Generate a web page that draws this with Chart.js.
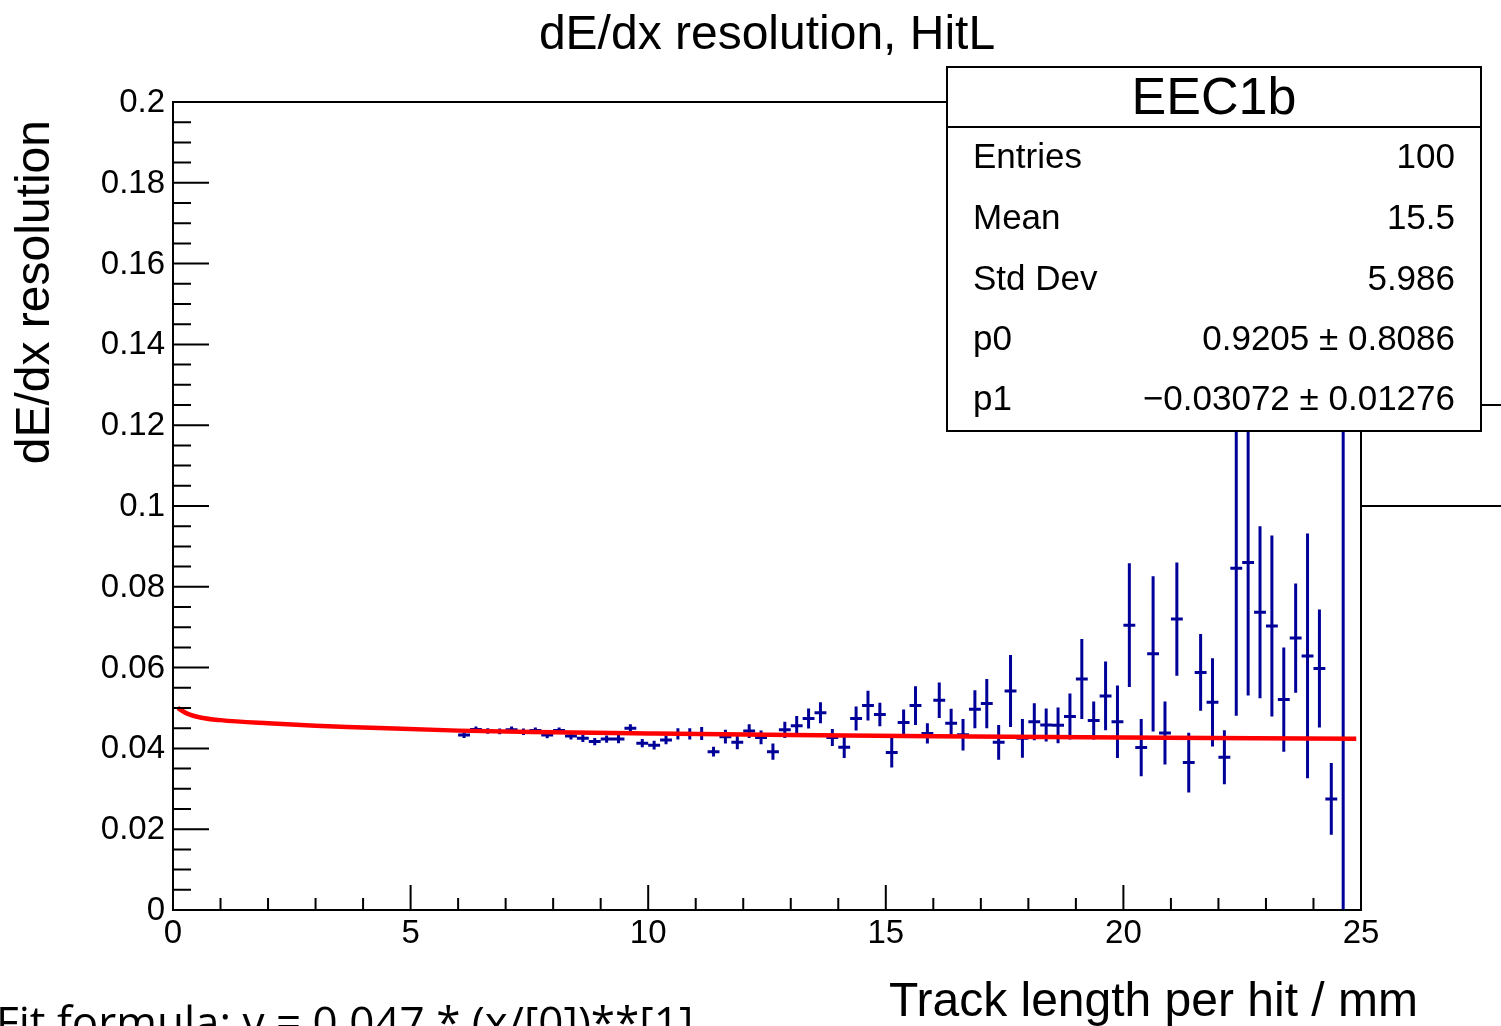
<!DOCTYPE html>
<html>
<head>
<meta charset="utf-8">
<title>dE/dx resolution, HitL</title>
<script src="https://cdn.jsdelivr.net/npm/chart.js@4.4.1/dist/chart.umd.min.js"></script>
<style>
  html, body { margin: 0; padding: 0; background: #fff; overflow: hidden; }
  canvas { display: block; }
</style>
</head>
<body>
<canvas id="grafica" width="1501" height="1026"></canvas>
<script>
// --- data ---------------------------------------------------------------
// bin centres (bin width 0.25 mm), only the filled bins
const binX = [
  6.125, 6.375, 6.625, 6.875, 7.125, 7.375, 7.625, 7.875, 8.125, 8.375,
  8.625, 8.875, 9.125, 9.375, 9.625, 9.875, 10.125, 10.375, 10.625, 10.875,
  11.125, 11.375, 11.625, 11.875, 12.125, 12.375, 12.625, 12.875, 13.125, 13.375,
  13.625, 13.875, 14.125, 14.375, 14.625, 14.875, 15.125, 15.375, 15.625, 15.875,
  16.125, 16.375, 16.625, 16.875, 17.125, 17.375, 17.625, 17.875, 18.125, 18.375,
  18.625, 18.875, 19.125, 19.375, 19.625, 19.875, 20.125, 20.375, 20.625, 20.875,
  21.125, 21.375, 21.625, 21.875, 22.125, 22.375, 22.625, 22.875, 23.125, 23.375,
  23.625, 23.875, 24.125, 24.375, 24.625
];
const binY = [
  0.0433, 0.0447, 0.0443, 0.0442, 0.0446, 0.0441, 0.0444, 0.0433, 0.0444, 0.0431,
  0.0425, 0.0417, 0.0423, 0.0423, 0.0450, 0.0413, 0.0408, 0.0421, 0.0436, 0.0436,
  0.0437, 0.0392, 0.0429, 0.0415, 0.0443, 0.0427, 0.0392, 0.0446, 0.0456, 0.0474,
  0.0488, 0.0427, 0.0403, 0.0474, 0.0506, 0.0484, 0.0390, 0.0464, 0.0506, 0.0437,
  0.0519, 0.0462, 0.0434, 0.0497, 0.0511, 0.0415, 0.0542, 0.0425, 0.0466, 0.0458,
  0.0457, 0.0479, 0.0572, 0.0469, 0.0530, 0.0466, 0.0705, 0.0402, 0.0634, 0.0438,
  0.0720, 0.0365, 0.0588, 0.0514, 0.0378, 0.0846, 0.0860, 0.0737, 0.0703, 0.0521,
  0.0673, 0.0629, 0.0598, 0.0275, 0.1400
];
const binErr = [
  0.0007, 0.0007, 0.0007, 0.0007, 0.0008, 0.0008, 0.0008, 0.0008, 0.0008, 0.0009,
  0.0009, 0.0009, 0.0009, 0.0010, 0.0010, 0.0010, 0.0011, 0.0011, 0.0014, 0.0014,
  0.0016, 0.0012, 0.0017, 0.0017, 0.0017, 0.0017, 0.0020, 0.0020, 0.0024, 0.0025,
  0.0026, 0.0021, 0.0027, 0.0030, 0.0037, 0.0029, 0.0037, 0.0032, 0.0048, 0.0025,
  0.0044, 0.0036, 0.0039, 0.0047, 0.0061, 0.0043, 0.0089, 0.0048, 0.0046, 0.0041,
  0.0044, 0.0057, 0.0099, 0.0047, 0.0085, 0.0090, 0.0153, 0.0071, 0.0192, 0.0078,
  0.0140, 0.0074, 0.0095, 0.0109, 0.0067, 0.0365, 0.0329, 0.0213, 0.0224, 0.0129,
  0.0135, 0.0303, 0.0146, 0.0089, 0.1600
];
const binHalf = 0.125;

// fit curve, read at a few points along the red line
const fitX = [0.1, 0.3, 0.6, 1.0, 2.0, 3.0, 4.0, 6.0, 8.0, 10.0, 13.0, 16.0, 20.0, 24.9];
const fitY = [0.0500, 0.0486, 0.0476, 0.0470, 0.0462, 0.0456, 0.0452, 0.0444, 0.0440, 0.0437, 0.0433, 0.0430, 0.0427, 0.0424];

// axes
const xTicks = [0, 5, 10, 15, 20, 25];
const xTickLabels = ["0", "5", "10", "15", "20", "25"];
const yTicks = [0, 0.02, 0.04, 0.06, 0.08, 0.1, 0.12, 0.14, 0.16, 0.18, 0.2];
const yTickLabels = ["0", "0.02", "0.04", "0.06", "0.08", "0.1", "0.12", "0.14", "0.16", "0.18", "0.2"];

// stats box
const statTitle = "EEC1b";
const statNames = ["Entries", "Mean", "Std Dev", "p0", "p1"];
const statValues = ["100", "15.5", "5.986", "0.9205 \u00b1 0.8086", "\u22120.03072 \u00b1 0.01276"];

const FONT = "'Liberation Sans', Arial, Helvetica, sans-serif";

// --- ROOT look: inner ticks, frame, texts, stats box --------------------
const rootStyle = {
  id: "rootStyle",
  beforeDatasetsDraw(chart) {
    const { ctx, chartArea: a, scales: { x, y } } = chart;
    ctx.save();
    ctx.beginPath();
    ctx.rect(a.left, a.top, a.right - a.left, a.bottom - a.top);
    ctx.clip();
    ctx.strokeStyle = "#000099";
    ctx.lineWidth = 3;
    ctx.beginPath();
    binX.forEach((xv, i) => {
      const px = x.getPixelForValue(xv);
      const py = y.getPixelForValue(binY[i]);
      ctx.moveTo(x.getPixelForValue(xv - binHalf), py);
      ctx.lineTo(x.getPixelForValue(xv + binHalf), py);
      ctx.moveTo(px, y.getPixelForValue(binY[i] + binErr[i]));
      ctx.lineTo(px, y.getPixelForValue(binY[i] - binErr[i]));
    });
    ctx.stroke();
    ctx.restore();
  },
  afterDraw(chart) {
    const { ctx, chartArea: a, scales: { x, y } } = chart;
    ctx.save();
    ctx.strokeStyle = "#000";
    ctx.fillStyle = "#000";
    ctx.lineWidth = 2;

    // frame
    ctx.strokeRect(a.left, a.top, a.right - a.left, a.bottom - a.top);

    // ticks
    ctx.beginPath();
    for (let v = 0; v <= 25; v += 1) {
      const px = x.getPixelForValue(v);
      const len = v % 5 === 0 ? 25 : 12;
      ctx.moveTo(px, a.bottom);
      ctx.lineTo(px, a.bottom - len);
    }
    for (let i = 0; i <= 40; i++) {
      const py = y.getPixelForValue(i * 0.005);
      const len = i % 4 === 0 ? 36 : 18;
      ctx.moveTo(a.left, py);
      ctx.lineTo(a.left + len, py);
    }
    ctx.stroke();

    // tick labels
    ctx.font = "33px " + FONT;
    ctx.textAlign = "center";
    ctx.textBaseline = "middle";
    xTicks.forEach((v, i) => ctx.fillText(xTickLabels[i], x.getPixelForValue(v), a.bottom + 24));
    ctx.textAlign = "right";
    yTicks.forEach((v, i) => ctx.fillText(yTickLabels[i], a.left - 8, y.getPixelForValue(v) + 1));

    // title and axis titles
    ctx.font = "48px " + FONT;
    ctx.textAlign = "center";
    ctx.textBaseline = "alphabetic";
    ctx.fillText("dE/dx resolution, HitL", 767, 49);
    ctx.textAlign = "right";
    ctx.fillText("Track length per hit / mm", 1418, 1016);
    ctx.save();
    ctx.translate(49, 120);
    ctx.rotate(-Math.PI / 2);
    ctx.textAlign = "right";
    ctx.fillText("dE/dx resolution", 0, 0);
    ctx.restore();

    // leftover edges of other pads
    ctx.beginPath();
    ctx.moveTo(a.right, 506); ctx.lineTo(1501, 506);
    ctx.moveTo(1481, 405); ctx.lineTo(1501, 405);
    ctx.stroke();

    // stats box
    const bx = 947, by = 67, bw = 534, bh = 364;
    ctx.fillStyle = "#fff";
    ctx.fillRect(bx, by, bw, bh);
    ctx.strokeRect(bx, by, bw, bh);
    ctx.beginPath();
    ctx.moveTo(bx, 127); ctx.lineTo(bx + bw, 127);
    ctx.stroke();
    ctx.fillStyle = "#000";
    ctx.font = "52px " + FONT;
    ctx.textAlign = "center";
    ctx.textBaseline = "middle";
    ctx.fillText(statTitle, bx + bw / 2, 100);
    ctx.font = "35px " + FONT;
    const rowY = [158, 219, 280, 340, 400];
    statNames.forEach((n, i) => {
      ctx.textAlign = "left";
      ctx.fillText(n, 973, rowY[i]);
      ctx.textAlign = "right";
      ctx.fillText(statValues[i], 1455, rowY[i]);
    });

    // fit formula caption (cut by the bottom edge)
    ctx.font = "44px 'Open Sans', 'Noto Sans', sans-serif";
    ctx.textAlign = "left";
    ctx.textBaseline = "alphabetic";
    ctx.fillText("Fit formula: y = 0.047 * (x/[0])**[1]", -4, 1038);
    ctx.restore();
  }
};

new Chart(document.getElementById("grafica"), {
  type: "scatter",
  data: {
    datasets: [
      {
        label: "EEC1b",
        data: binX.map((v, i) => ({ x: v, y: binY[i] })),
        pointRadius: 0,
        showLine: false
      },
      {
        label: "fit",
        type: "line",
        data: fitX.map((v, i) => ({ x: v, y: fitY[i] })),
        borderColor: "#ff0000",
        borderWidth: 4.5,
        pointRadius: 0,
        fill: false,
        cubicInterpolationMode: "monotone"
      }
    ]
  },
  options: {
    responsive: false,
    devicePixelRatio: 1,
    animation: false,
    layout: { padding: { left: 173, top: 102, right: 140, bottom: 116 } },
    scales: {
      x: { type: "linear", min: 0, max: 25, display: false },
      y: { type: "linear", min: 0, max: 0.2, display: false }
    },
    plugins: { legend: { display: false }, tooltip: { enabled: false } }
  },
  plugins: [rootStyle]
});
</script>
</body>
</html>
